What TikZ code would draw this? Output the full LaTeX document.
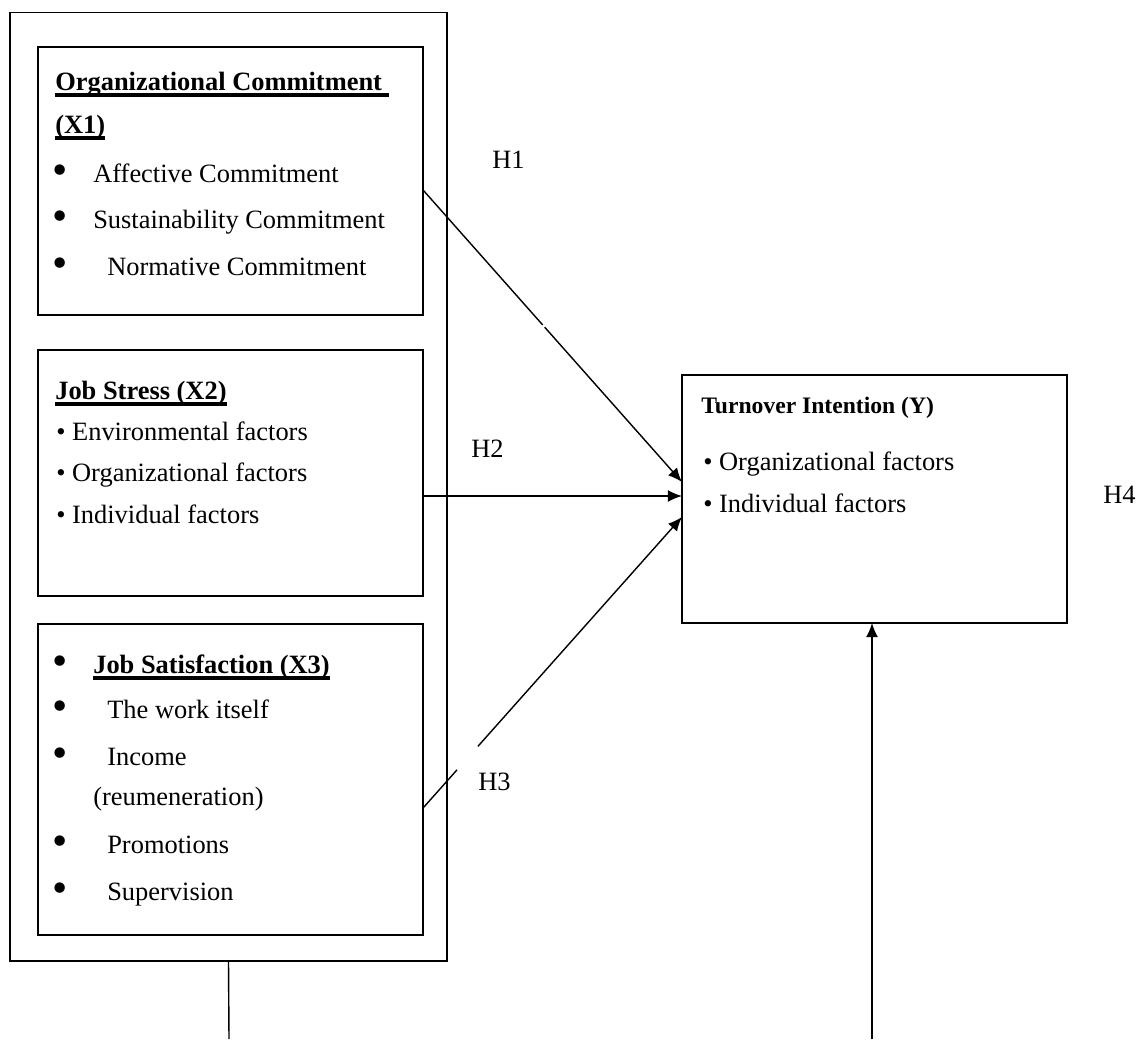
\documentclass[tikz,border=0pt]{standalone}
\usepackage{fontspec}
\setmainfont{Liberation Serif}
\usetikzlibrary{arrows.meta, calc}
\newcommand{\ulbf}[1]{\setbox0\hbox{\bfseries #1}\rlap{\rule[-5.2pt]{\wd0}{3pt}}\box0}
\newcommand{\bigbul}[1]{\makebox[#1][l]{\fontsize{31pt}{31pt}\selectfont\raisebox{-1.5pt}{•}}}

\begin{document}
\begin{tikzpicture}[x=0.025cm, y=-0.025cm,
    box/.style={draw, line width=1.4pt, inner sep=0pt, outer sep=0pt},
    txt/.style={anchor=base west, inner sep=0pt, font=\fontsize{18.8pt}{22pt}\selectfont},
    link/.style={line width=1pt},
    tip/.style={-{Latex[length=10pt, width=8.5pt]}}]
    \useasboundingbox (0,0) rectangle (1148,1039);

    \node[box, line width=0.9pt, minimum width=10.925cm, minimum height=23.71cm] (outer) at (228.5,486.75) {};
    \node[box, minimum width=9.625cm, minimum height=6.7cm] (box1) at (230.5,181) {};
    \node[box, minimum width=9.625cm, minimum height=6.15cm] (box2) at (230.5,473) {};
    \node[box, minimum width=9.625cm, minimum height=7.775cm] (box3) at (230.5,779.5) {};
    \node[box, minimum width=9.625cm, minimum height=6.2cm] (boxY) at (874.5,499) {};

    \node[txt] (t1) at (55,90) {\ulbf{Organizational Commitment\ }};
    \node[txt] (t1b) at (55,133) {\ulbf{(X1)}};
    \node[txt] (a1) at (52,182) {\bigbul{1.025cm}Affective Commitment};
    \node[txt] (a2) at (52,228) {\bigbul{1.025cm}Sustainability Commitment};
    \node[txt] (a3) at (52,275) {\bigbul{1.375cm}Normative Commitment};

    \node[txt] (t2) at (55,399) {\ulbf{Job Stress (X2)}};
    \node[txt] (b1) at (56,440) {• Environmental factors};
    \node[txt] (b2) at (56,481) {• Organizational factors};
    \node[txt] (b3) at (56,523) {• Individual factors};

    \node[txt] (t3) at (52,673) {\bigbul{1.025cm}\ulbf{Job Satisfaction (X3)}};
    \node[txt] (c1) at (52,718) {\bigbul{1.375cm}The work itself};
    \node[txt] (c2) at (52,765) {\bigbul{1.375cm}Income};
    \node[txt] (c2b) at (93,805) {(reumeneration)};
    \node[txt] (c3) at (52,853) {\bigbul{1.375cm}Promotions};
    \node[txt] (c4) at (52,900) {\bigbul{1.375cm}Supervision};

    \node[txt, font=\fontsize{16.8pt}{20pt}\selectfont\bfseries] (tY) at (701,413) {Turnover Intention (Y)};
    \node[txt] (y1) at (703,470) {• Organizational factors};
    \node[txt] (y2) at (703,512) {• Individual factors};

    \node[txt] (h1) at (492,168) {H1};
    \node[txt] (h2) at (471,457) {H2};
    \node[txt] (h3) at (478,790) {H3};
    \node[txt] (h4) at (1103,503) {H4};

    \coordinate (h1a) at ($(box1.east)+(0,9)$);
    \coordinate (h1b) at ($(boxY.west)+(0,-17)$);
    \coordinate (h3a) at ($(box3.east)+(0,28.5)$);
    \coordinate (h3b) at ($(boxY.west)+(0,18)$);
    \coordinate (foot1) at (229,1039);
    \coordinate (foot2) at (872,1039);

    \draw[link] (h1a) -- ($(h1a)!0.462!(h1b)$);
    \draw[link, tip] ($(h1a)!0.47!(h1b)$) -- (h1b);
    \draw[link, tip] ($(box2.east)+(0,23)$) -- ($(boxY.west)+(0,-3)$);
    \draw[link] (h3a) -- ($(h3a)!0.131!(h3b)$);
    \draw[link, tip] ($(h3a)!0.212!(h3b)$) -- (h3b);
    \draw[link] (outer.south) -- (foot1);
    \draw[link, tip] (foot2) -- (foot2 |- boxY.south);
  \end{tikzpicture}
\end{document}
